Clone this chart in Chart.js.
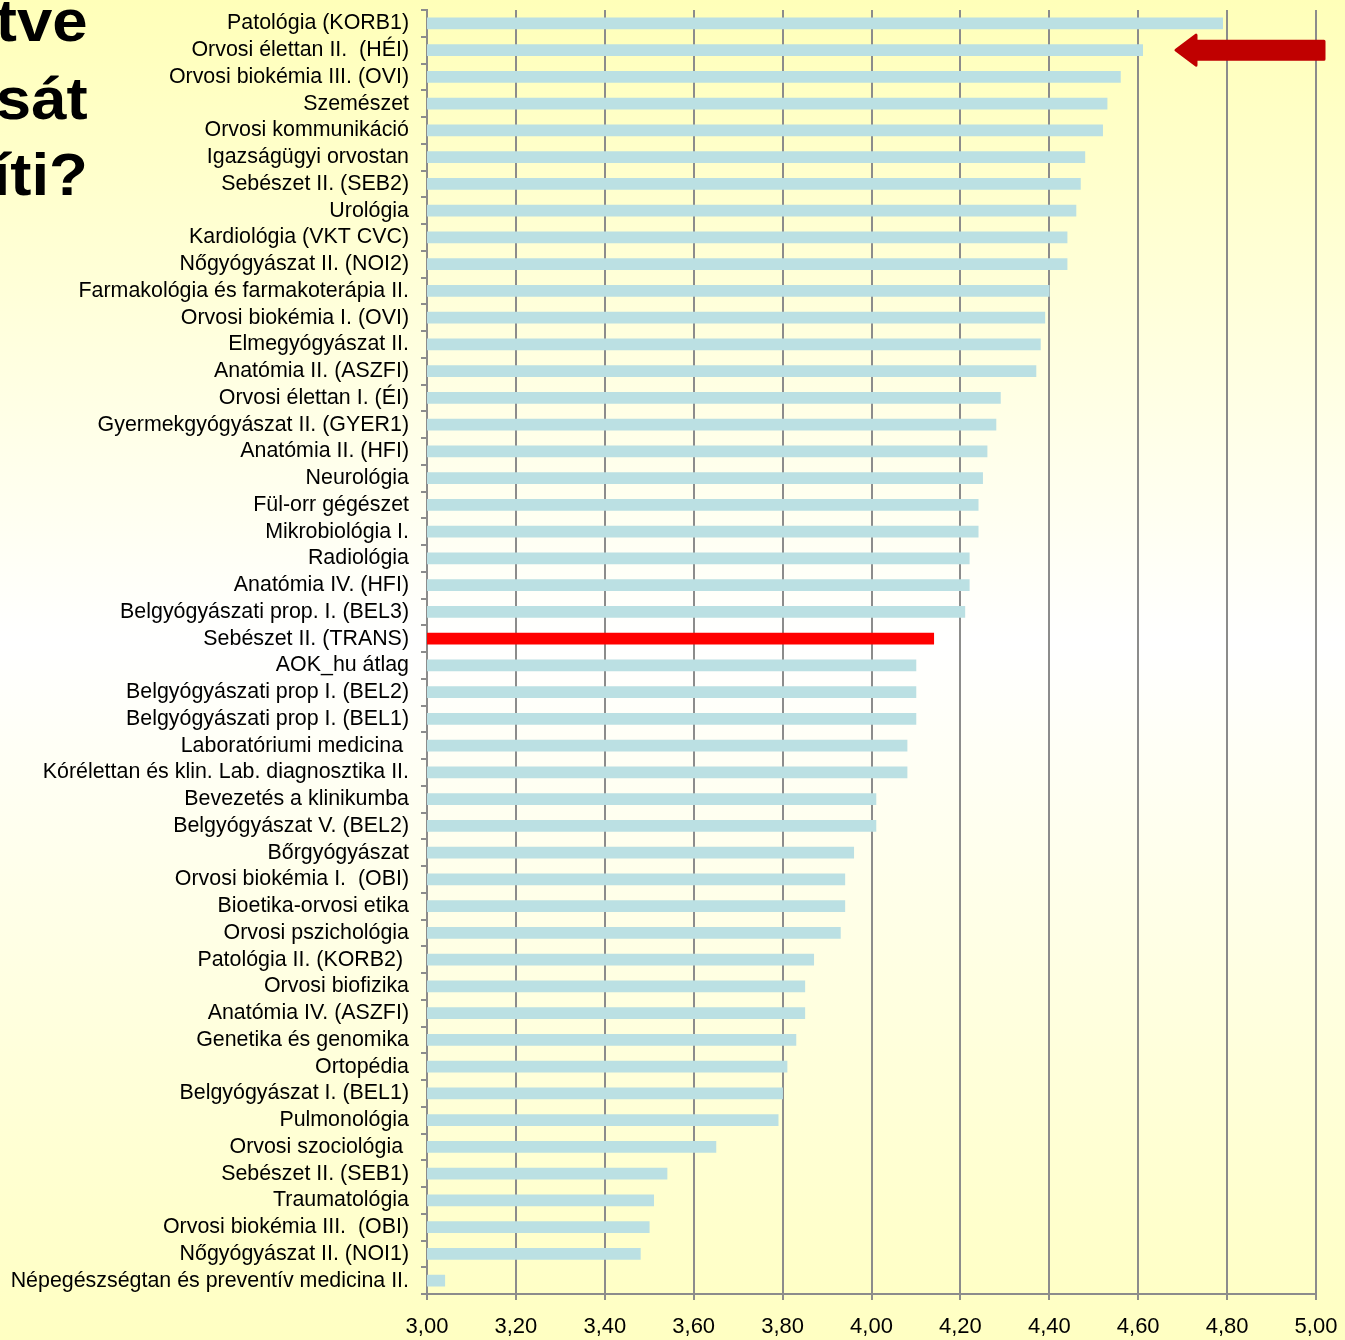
<!DOCTYPE html>
<html>
<head>
<meta charset="utf-8">
<script src="https://cdn.jsdelivr.net/npm/chart.js@4"></script>
<style>
  html, body { margin: 0; padding: 0; }
  body {
    width: 1345px; height: 1340px; overflow: hidden; position: relative;
    background: linear-gradient(to bottom, #FFFFB9 0%, #FFFFFF 48%, #FFFFC2 100%);
    font-family: "Liberation Sans", Arial, sans-serif;
  }
  #wrap { position: absolute; left: 0; top: 0; width: 1345px; height: 1340px; }
  .title {
    position: absolute; right: 1257px; font-weight: bold; font-size: 60px;
    line-height: 60px; color: #000; white-space: nowrap;
    transform: scaleX(1.06); transform-origin: right center;
  }
</style>
</head>
<body>
<div class="title" style="top:-9px">tve</div>
<div class="title" style="top:69px">sát</div>
<div class="title" style="top:145px">íti?</div>
<div id="wrap"><canvas id="chart"></canvas></div>
<script>
const subjects = [
  'Patológia (KORB1)', 'Orvosi élettan II.  (HÉI)', 'Orvosi biokémia III. (OVI)', 'Szemészet',
  'Orvosi kommunikáció', 'Igazságügyi orvostan', 'Sebészet II. (SEB2)', 'Urológia',
  'Kardiológia (VKT CVC)', 'Nőgyógyászat II. (NOI2)', 'Farmakológia és farmakoterápia II.',
  'Orvosi biokémia I. (OVI)', 'Elmegyógyászat II.', 'Anatómia II. (ASZFI)', 'Orvosi élettan I. (ÉI)',
  'Gyermekgyógyászat II. (GYER1)', 'Anatómia II. (HFI)', 'Neurológia', 'Fül-orr gégészet',
  'Mikrobiológia I.', 'Radiológia', 'Anatómia IV. (HFI)', 'Belgyógyászati prop. I. (BEL3)',
  'Sebészet II. (TRANS)', 'AOK_hu átlag', 'Belgyógyászati prop I. (BEL2)', 'Belgyógyászati prop I. (BEL1)',
  'Laboratóriumi medicina ', 'Kórélettan és klin. Lab. diagnosztika II.', 'Bevezetés a klinikumba',
  'Belgyógyászat V. (BEL2)', 'Bőrgyógyászat', 'Orvosi biokémia I.  (OBI)', 'Bioetika-orvosi etika',
  'Orvosi pszichológia', 'Patológia II. (KORB2) ', 'Orvosi biofizika', 'Anatómia IV. (ASZFI)',
  'Genetika és genomika', 'Ortopédia', 'Belgyógyászat I. (BEL1)', 'Pulmonológia',
  'Orvosi szociológia ', 'Sebészet II. (SEB1)', 'Traumatológia', 'Orvosi biokémia III.  (OBI)',
  'Nőgyógyászat II. (NOI1)', 'Népegészségtan és preventív medicina II.'
];
const scores = [
  4.79, 4.61, 4.56, 4.53, 4.52, 4.48, 4.47, 4.46, 4.44, 4.44, 4.40, 4.39, 4.38, 4.37, 4.29, 4.28,
  4.26, 4.25, 4.24, 4.24, 4.22, 4.22, 4.21, 4.14, 4.10, 4.10, 4.10, 4.08, 4.08, 4.01, 4.01, 3.96,
  3.94, 3.94, 3.93, 3.87, 3.85, 3.85, 3.83, 3.81, 3.80, 3.79, 3.65, 3.54, 3.51, 3.50, 3.48, 3.04
];
const highlighted = 'Sebészet II. (TRANS)';
const pointedAt = 'Orvosi élettan II.  (HÉI)';
const xTicksMin = 3.0;
const xTicksMax = 5.0;
const xTickStep = 0.2;

const barColors = subjects.map(s => s === highlighted ? '#FF0000' : '#BBE0E3');

// red arrow pointing at one of the bars
const arrowPlugin = {
  id: 'arrow',
  afterDraw(chart) {
    const ctx = chart.ctx;
    const y = chart.scales.y.getPixelForValue(subjects.indexOf(pointedAt));
    const tip = 1176, right = 1324, head = 20, shaft = 9, half = 15;
    ctx.save();
    ctx.fillStyle = '#C00000';
    ctx.strokeStyle = '#C00000';
    ctx.lineJoin = 'round';
    ctx.lineWidth = 3;
    ctx.beginPath();
    ctx.moveTo(tip, y);
    ctx.lineTo(tip + head, y - half);
    ctx.lineTo(tip + head, y - shaft);
    ctx.lineTo(right, y - shaft);
    ctx.lineTo(right, y + shaft);
    ctx.lineTo(tip + head, y + shaft);
    ctx.lineTo(tip + head, y + half);
    ctx.closePath();
    ctx.fill();
    ctx.stroke();
    ctx.restore();
  }
};

new Chart(document.getElementById('chart'), {
  type: 'bar',
  data: {
    labels: subjects,
    datasets: [{
      data: scores,
      backgroundColor: barColors,
      barThickness: 11,
      borderSkipped: false
    }]
  },
  options: {
    indexAxis: 'y',
    responsive: true,
    maintainAspectRatio: false,
    animation: false,
    layout: { padding: { top: 10, right: 29, left: 0, bottom: 0 } },
    plugins: { legend: { display: false }, tooltip: { enabled: false } },
    scales: {
      x: {
        min: xTicksMin,
        max: xTicksMax,
        afterFit: s => { s.height = 46; s.paddingLeft = 0; s.paddingRight = 0; },
        ticks: {
          stepSize: xTickStep,
          color: '#000',
          font: { family: 'Liberation Sans', size: 22 },
          padding: 14,
          maxRotation: 0,
          callback: v => Number(v).toFixed(2).replace('.', ',')
        },
        grid: { color: '#8C8C8C', lineWidth: 2, tickLength: 6 },
        border: { color: '#8C8C8C', width: 2 }
      },
      y: {
        afterFit: s => { s.width = 427; s.paddingTop = 0; s.paddingBottom = 0; },
        ticks: {
          color: '#000',
          font: { family: 'Liberation Sans', size: 21.4 },
          padding: 12,
          autoSkip: false
        },
        grid: { offset: true, drawOnChartArea: false, color: '#8C8C8C', lineWidth: 2, tickLength: 6 },
        border: { color: '#8C8C8C', width: 2 }
      }
    }
  },
  plugins: [arrowPlugin]
});
</script>
</body>
</html>
